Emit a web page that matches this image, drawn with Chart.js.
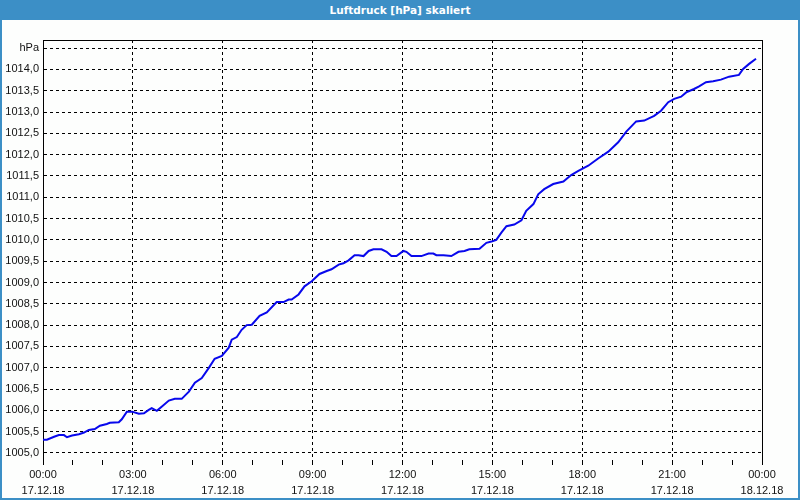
<!DOCTYPE html>
<html>
<head>
<meta charset="utf-8">
<script src="https://cdn.jsdelivr.net/npm/chart.js@4"></script>
<style>
  html, body { margin: 0; padding: 0; background: #fff; }
  #frame { position: relative; width: 800px; height: 500px; box-sizing: border-box; border: 2px solid #3c8fc6; border-top: none; background: #fdfefd; overflow: hidden; }
  #title { position: absolute; left: 0; top: 0; width: 800px; height: 20px; margin-left: -2px; background: #3c8fc6; color: #fff; font: bold 10.5px "DejaVu Sans", sans-serif; text-align: center; line-height: 20px; z-index: 2; }
  #chart { position: absolute; left: -2px; top: 0; }
</style>
</head>
<body>
<div id="frame">
  <div id="title">Luftdruck [hPa] skaliert</div>
  <canvas id="chart" width="800" height="500"></canvas>
</div>
<script>
// hours since 17.12.18 00:00
const hours = [
  0.00, 0.13, 0.37, 0.53, 0.70, 0.80, 0.97, 1.20, 1.37, 1.53, 1.73, 1.90, 2.13, 2.23, 2.53, 2.63,
  2.80, 2.97, 3.20, 3.37, 3.53, 3.63, 3.80, 3.97, 4.20, 4.40, 4.63, 4.87, 5.07, 5.30, 5.53, 5.73,
  5.97, 6.20, 6.30, 6.47, 6.63, 6.80, 6.97, 7.23, 7.47, 7.80, 8.03, 8.20, 8.30, 8.53, 8.73, 8.97,
  9.23, 9.47, 9.63, 9.87, 10.03, 10.20, 10.40, 10.53, 10.70, 10.87, 11.03, 11.30, 11.47, 11.63, 11.80, 12.03,
  12.13, 12.30, 12.63, 12.87, 13.03, 13.13, 13.37, 13.63, 13.87, 14.07, 14.23, 14.57, 14.80, 14.97, 15.13, 15.30,
  15.47, 15.73, 15.97, 16.13, 16.37, 16.53, 16.73, 17.03, 17.37, 17.63, 17.87, 18.20, 18.53, 18.87, 19.20, 19.47,
  19.80, 20.07, 20.40, 20.63, 20.87, 21.07, 21.30, 21.47, 21.73, 21.90, 22.13, 22.37, 22.63, 22.90, 23.23, 23.37,
  23.57, 23.80
];
const pressure = [
  1005.31, 1005.31, 1005.38, 1005.42, 1005.42, 1005.37, 1005.41, 1005.44, 1005.48, 1005.54, 1005.56, 1005.64, 1005.68, 1005.71, 1005.72, 1005.79,
  1005.97, 1005.97, 1005.92, 1005.93, 1006.01, 1006.05, 1005.99, 1006.09, 1006.23, 1006.27, 1006.27, 1006.44, 1006.65, 1006.76, 1006.99, 1007.21,
  1007.28, 1007.47, 1007.66, 1007.72, 1007.89, 1008.00, 1008.01, 1008.22, 1008.30, 1008.54, 1008.54, 1008.60, 1008.60, 1008.72, 1008.91, 1009.03,
  1009.20, 1009.27, 1009.31, 1009.42, 1009.45, 1009.52, 1009.64, 1009.64, 1009.62, 1009.74, 1009.78, 1009.78, 1009.72, 1009.62, 1009.62, 1009.74,
  1009.72, 1009.62, 1009.62, 1009.68, 1009.68, 1009.64, 1009.64, 1009.62, 1009.72, 1009.74, 1009.78, 1009.79, 1009.93, 1009.96, 1010.00, 1010.17,
  1010.32, 1010.36, 1010.46, 1010.68, 1010.84, 1011.07, 1011.19, 1011.31, 1011.37, 1011.52, 1011.62, 1011.74, 1011.91, 1012.07, 1012.29, 1012.54,
  1012.78, 1012.80, 1012.91, 1013.03, 1013.23, 1013.31, 1013.36, 1013.46, 1013.54, 1013.60, 1013.70, 1013.72, 1013.76, 1013.83, 1013.87, 1014.01,
  1014.13, 1014.25
];

const yTicks = [1005.0, 1005.5, 1006.0, 1006.5, 1007.0, 1007.5, 1008.0, 1008.5, 1009.0, 1009.5,
  1010.0, 1010.5, 1011.0, 1011.5, 1012.0, 1012.5, 1013.0, 1013.5, 1014.0, 1014.5];
const timeLabels = ["00:00", "03:00", "06:00", "09:00", "12:00", "15:00", "18:00", "21:00", "00:00"];
const dateLabels = ["17.12.18", "17.12.18", "17.12.18", "17.12.18", "17.12.18", "17.12.18", "17.12.18", "17.12.18", "18.12.18"];

const FONT = { family: "Liberation Sans", size: 11, lineHeight: 1.45 };

const frameBorder = {
  id: "frameBorder",
  afterDraw(chart) {
    const { ctx, chartArea: a } = chart;
    ctx.save();
    ctx.strokeStyle = "#000";
    ctx.lineWidth = 1;
    ctx.beginPath();
    ctx.moveTo(a.left + 0.5, a.top + 0.5);
    ctx.lineTo(a.right + 0.5, a.top + 0.5);
    ctx.lineTo(a.right + 0.5, a.bottom + 5);
    ctx.stroke();
    ctx.restore();
  }
};

new Chart(document.getElementById("chart"), {
  type: "line",
  data: {
    datasets: [{
      data: hours.map((h, i) => ({ x: h, y: pressure[i] })),
      borderColor: "#0808ec",
      borderWidth: 2,
      pointRadius: 0,
      tension: 0,
      fill: false
    }]
  },
  options: {
    responsive: false,
    animation: false,
    layout: { padding: { top: 40, right: 38, left: 2, bottom: 0 } },
    plugins: { legend: { display: false }, tooltip: { enabled: false } },
    scales: {
      x: {
        type: "linear",
        min: 0,
        max: 24,
        afterFit(scale) { scale.height = 40; },
        afterBuildTicks(scale) {
          const t = [];
          for (let h = 0; h <= 24; h++) t.push({ value: h });
          scale.ticks = t;
        },
        grid: {
          color: (c) => (c.tick && c.tick.value % 3 === 0 ? "#000" : "rgba(0,0,0,0)"),
          tickColor: "#000",
          tickLength: 5,
          tickBorderDash: [],
          lineWidth: 1
        },
        border: { display: false, dash: [3, 3] },
        ticks: {
          autoSkip: false,
          maxRotation: 0,
          padding: 2,
          color: "#111",
          font: FONT,
          callback: (v) => (v % 3 === 0 ? [timeLabels[v / 3], dateLabels[v / 3]] : "")
        }
      },
      y: {
        min: 1004.835,
        max: 1014.69,
        afterFit(scale) { scale.width = 41; },
        afterBuildTicks(scale) { scale.ticks = yTicks.map((v) => ({ value: v })); },
        grid: { color: "#000", drawTicks: false, lineWidth: 1 },
        border: { display: true, color: "#000", dash: [3, 3] },
        ticks: {
          padding: 4,
          color: "#111",
          font: FONT,
          callback: (v) => (v === 1014.5 ? "hPa" : v.toFixed(1).replace(".", ","))
        }
      }
    }
  },
  plugins: [frameBorder]
});
</script>
</body>
</html>
